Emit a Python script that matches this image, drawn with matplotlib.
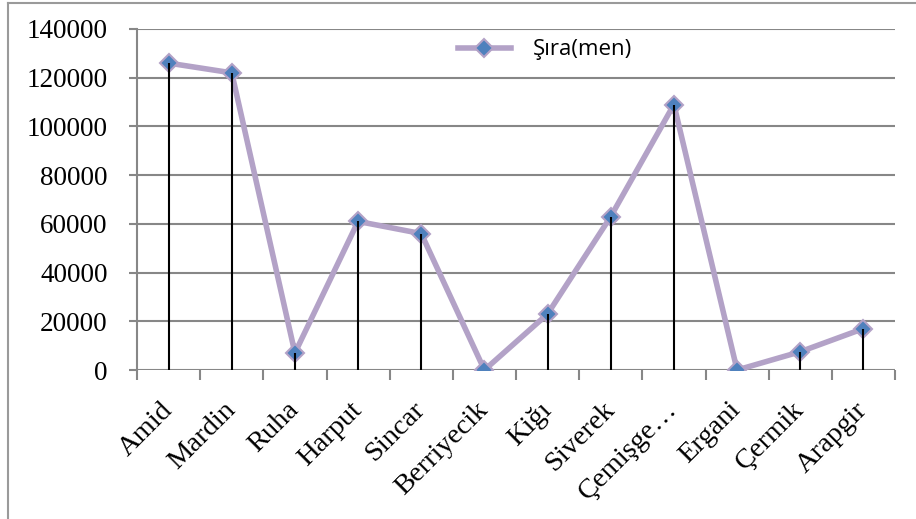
import matplotlib
matplotlib.use("Agg")
import matplotlib.pyplot as plt
from matplotlib.lines import Line2D

categories = ["Amid", "Mardin", "Ruha", "Harput", "Sincar", "Berriyecik", "Kiğı",
              "Siverek", "Çemişge…", "Ergani", "Çermik", "Arapgir"]
values = [126000, 122000, 7000, 61000, 56000, 0, 23000, 63000, 109000, 0, 7500, 17000]
yticks = [0, 20000, 40000, 60000, 80000, 100000, 120000, 140000]
series_name = "Şıra(men)"

W, H = 916, 519
fig = plt.figure(figsize=(W / 100, H / 100), dpi=100)
left, right, top, bottom = 137, 895, 29, 370
ax = fig.add_axes([left / W, 1 - bottom / H, (right - left) / W, (bottom - top) / H])

x = list(range(len(categories)))
grid_c = "#878787"

for yv in yticks:
    ax.axhline(yv, color=grid_c, lw=1.5, zorder=1)

ax.plot(x, values, color="#B3A2C7", lw=4, zorder=3, solid_joinstyle="round")
ax.plot(x, values, ls="none", marker="D", ms=9, markerfacecolor="#4F81BD",
        markeredgecolor="#B3A2C7", markeredgewidth=1.5, zorder=4)
ax.vlines(x, 0, values, colors="black", lw=1.5, zorder=5)

ax.set_xlim(-0.5, len(categories) - 0.5)
ax.set_ylim(0, 140000)

for s in ["top", "right", "bottom"]:
    ax.spines[s].set_visible(False)
ax.spines["left"].set_color(grid_c)
ax.spines["left"].set_linewidth(1.5)

ax.set_yticks(yticks)
ax.set_yticklabels([str(v) for v in yticks], fontfamily="Liberation Serif", fontsize=19.5)
ax.tick_params(axis="y", length=6, width=1.5, color=grid_c, pad=15)

# category boundary ticks
ax.set_xticks([i - 0.5 for i in range(len(categories) + 1)])
ax.set_xticklabels([])
ax.tick_params(axis="x", length=7, width=1.5, color=grid_c, direction="out")
ax.set_xticks(x, minor=True)
ax.set_xticklabels(categories, minor=True, rotation=45, ha="right", va="center",
                   rotation_mode="anchor", fontfamily="Liberation Serif", fontsize=20.5)
ax.tick_params(axis="x", which="minor", length=0, pad=26)

handle = Line2D([0], [0], color="#B3A2C7", lw=4, marker="D", ms=9,
                markerfacecolor="#4F81BD", markeredgecolor="#B3A2C7", markeredgewidth=1.5)
leg = ax.legend([handle], [series_name], loc="center", bbox_to_anchor=(545 / W, 1 - 50 / H),
                bbox_transform=fig.transFigure, frameon=False,
                prop={"family": "Open Sans", "size": 16}, handlelength=2.4, handletextpad=1.0)

# outer chart frame
fig.add_artist(Line2D([8 / W, 8 / W], [0, 1 - 3 / H], color="#9a9a9a", lw=1.5, transform=fig.transFigure))
fig.add_artist(Line2D([8 / W, 1], [1 - 3 / H, 1 - 3 / H], color="#9a9a9a", lw=1.5, transform=fig.transFigure))

fig.savefig("out.png", dpi=100)
